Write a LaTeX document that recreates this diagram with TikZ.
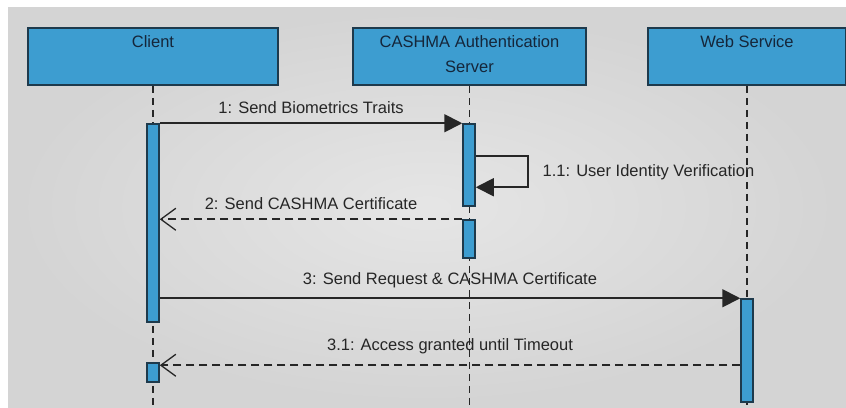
\documentclass[tikz,border=0pt]{standalone}
\usepackage{fontspec}
\setmainfont{Liberation Sans}
\usetikzlibrary{arrows.meta,calc}
\definecolor{lifeblue}{HTML}{3D9DD0}
\definecolor{edgedark}{HTML}{1E3A4C}
\definecolor{inkdark}{HTML}{262626}
\definecolor{navy}{HTML}{15263A}

\begin{document}
\begin{tikzpicture}[x=1pt, y=-1pt,
  lifebox/.style={draw=edgedark, line width=1.8pt, fill=lifeblue, minimum height=57pt, inner sep=0pt},
  boxlab/.style={font=\fontsize{16.5}{25}\selectfont, text=navy, align=center, anchor=north, inner sep=0pt, yshift=-8pt},
  act/.style={draw=edgedark, line width=1.5pt, fill=lifeblue, minimum width=12pt, inner sep=0pt},
  life/.style={draw=inkdark, line width=1.2pt, dash pattern=on 7pt off 5pt},
  msg/.style={draw=inkdark, line width=1.8pt, -{Triangle[length=18pt,width=18pt]}},
  reply/.style={draw=inkdark, line width=1.8pt, dash pattern=on 8pt off 5pt, -{Straight Barb[length=15pt,width=22pt,line width=1.3pt]}},
  lab/.style={font=\fontsize{16.5}{20}\selectfont, text=inkdark, inner sep=1pt}
]
\useasboundingbox (0,0) rectangle (846,407);
\shade[inner color=black!10, outer color=black!17] (8,7) rectangle (846,407);

% the three participants
\node[lifebox, minimum width=250pt, label={[boxlab]north:Client}] (client) at (153,56.5) {};
\node[lifebox, minimum width=233pt, label={[boxlab]north:CASHMA Authentication\\Server}] (server) at (469.5,56.5) {};
\node[lifebox, minimum width=198pt, label={[boxlab]north:Web Service}] (web) at (747,56.5) {};

% lifelines
\draw[life] (client.south) -- (client.south |- 0,407);
\draw[life] (server.south) -- (server.south |- 0,407);
\draw[life] (web.south) -- (web.south |- 0,407);

% activation bars
\node[act, minimum height=198pt] (cact1) at (153,223) {};
\node[act, minimum height=19pt] (cact2) at (153,372.5) {};
\node[act, minimum height=82pt] (sact1) at (469,165) {};
\node[act, minimum height=38pt] (sact2) at (469,239) {};
\node[act, minimum height=103pt] (wact) at (747,350.5) {};

% messages
\draw[msg] (cact1.north east) -- node[lab, above=8pt]{1: Send Biometrics Traits} (sact1.north west);
\draw[msg] ($(sact1.north east)+(0,33)$) -- ++(52,0) |- node[lab, anchor=west, pos=0.25, xshift=13pt]{1.1: User Identity Verification} ($(sact1.north east)+(0,64)$);
\draw[reply] (sact2.north west) -- node[lab, above=8pt]{2: Send CASHMA Certificate} (cact1.east |- sact2.north);
\draw[msg] (cact1.east |- wact.north) -- node[lab, above=8pt]{3: Send Request \& CASHMA Certificate} (wact.north west);
\coordinate (back) at ($(cact2.north east)+(0,3)$);
\draw[reply] (wact.west |- back) -- node[lab, above=9pt]{3.1: Access granted until Timeout} (back);
\end{tikzpicture}
\end{document}
